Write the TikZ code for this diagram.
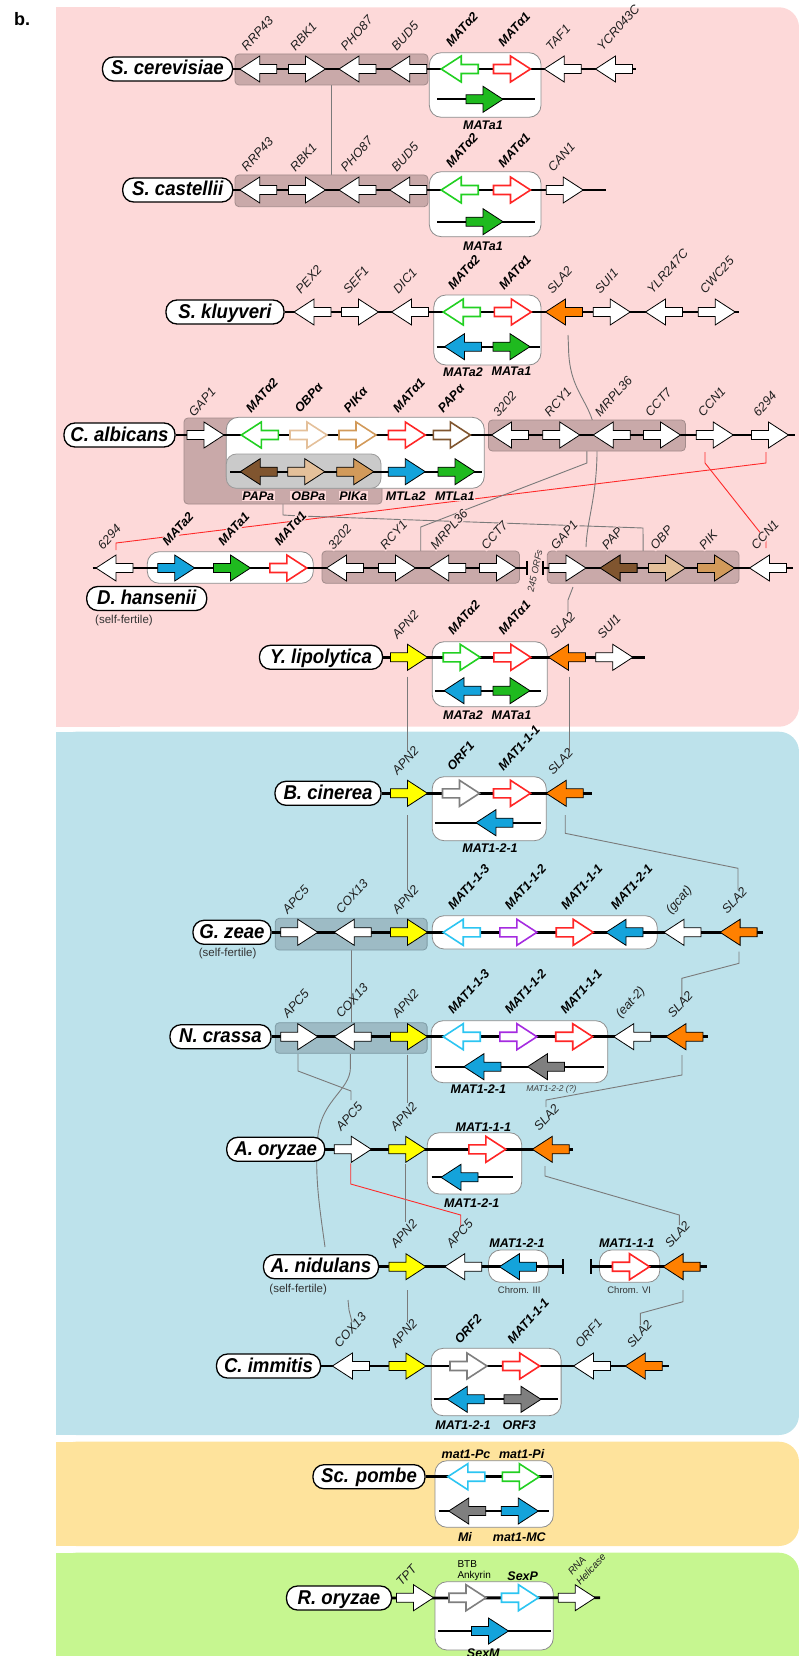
\documentclass[tikz,border=0pt]{standalone}
\usepackage{fontspec}
\setmainfont{Liberation Sans}
\newfontfamily\pillfont{Liberation Sans}[FakeStretch=0.93]
\usetikzlibrary{calc}
\pgfdeclarelayer{panel}
\pgfdeclarelayer{conn}
\pgfsetlayers{panel,conn,main}
\definecolor{pinkbg}{HTML}{FDD9D9}
\definecolor{bluebg}{HTML}{BDE2EB}
\definecolor{yellowbg}{HTML}{FEE39C}
\definecolor{greenbg}{HTML}{C6F690}
\definecolor{brbox}{HTML}{C9A9A9}
\definecolor{brboxl}{HTML}{A38B8B}
\definecolor{blbox}{HTML}{9DBBC5}
\definecolor{blboxl}{HTML}{7E9BA5}
\definecolor{grbox}{HTML}{CACACA}
\definecolor{grboxl}{HTML}{9A9A9A}
\definecolor{matl}{HTML}{8C8C8C}
\definecolor{cgo}{HTML}{22D022}
\definecolor{cgf}{HTML}{1FBA1F}
\definecolor{cred}{HTML}{FF2626}
\definecolor{cblue}{HTML}{14A3DB}
\definecolor{corange}{HTML}{FF8000}
\definecolor{cyel}{HTML}{FFFF00}
\definecolor{ccyan}{HTML}{2CC5F2}
\definecolor{cpur}{HTML}{A52BE0}
\definecolor{cgray}{HTML}{7F7F7F}
\definecolor{ctanl}{HTML}{E4C09A}
\definecolor{ctan}{HTML}{D29A5A}
\definecolor{cbrown}{HTML}{80552F}
\definecolor{connc}{HTML}{7A7A7A}
\definecolor{rconn}{HTML}{FF2A2A}
\tikzset{
  gbox/.style={minimum width=37pt, minimum height=26pt, inner sep=0pt, outer sep=0pt},
  wg/.style={fill=white, draw=black, line width=0.8pt},
  og/.style={fill=white, draw=#1, line width=1.6pt},
  fg/.style={fill=#1, draw=black, line width=0.8pt},
  lx/.style={},
  glab/.style={rotate=48, anchor=base west, inner sep=0.8pt, text=black!88, font=\fontsize{12.5}{12.5}\selectfont\itshape, lx},
  gblab/.style={glab, text=black, font=\fontsize{12.5}{12.5}\selectfont\bfseries\itshape},
  blab/.style={inner sep=0.8pt, font=\fontsize{12.5}{12.5}\selectfont\bfseries\itshape, lx},
  smalltxt/.style={inner sep=0pt, text=black!80, font=\fontsize{11.5}{11.5}\selectfont},
  tinytxt/.style={inner sep=0pt, text=black!80, font=\fontsize{9.5}{9.5}\selectfont},
  chrom/.style={line width=2.8pt, black},
  subl/.style={line width=2pt, black},
  tickl/.style={line width=2pt, black},
  brbx/.style={fill=brbox, draw=brboxl, line width=0.8pt, rounded corners=4pt, inner sep=0pt, outer sep=0pt},
  blbx/.style={fill=blbox, draw=blboxl, line width=0.8pt, rounded corners=4pt, inner sep=0pt, outer sep=0pt},
  grbx/.style={fill=grbox, draw=grboxl, line width=0.8pt, rounded corners=10pt, inner sep=0pt, outer sep=0pt},
  matbx/.style={fill=white, draw=matl, line width=0.8pt, rounded corners=12pt, inner sep=0pt, outer sep=0pt},
  pill/.style={draw=black, line width=1.3pt, fill=white, rounded corners=11pt, minimum height=24pt, inner xsep=3pt, inner ysep=0pt, text height=15pt, text depth=3pt, font=\pillfont\bfseries\itshape\fontsize{20}{20}\selectfont},
  cn/.style={draw=connc, line width=0.9pt},
  rcn/.style={draw=rconn, line width=0.9pt},
}
\newcommand\garrow[5]{%
  \node[gbox] (#1) at (#2,#3) {};
  \draw[#5] ($(#1)+({#4*(-18.5)},-4.5)$) -- ++({#4*17},0) -- ++(0,-8.5) -- ++({#4*20},13) -- ++({#4*(-20)},13) -- ++(0,-8.5) -- ++({#4*(-17)},0) -- cycle;}
\newcommand\gA[6]{\garrow{#1}{#2}{#3}{#4}{#5}\node[glab] (#1l) at ($(#1)+(-12,-17)$) {#6};}
\newcommand\gB[6]{\garrow{#1}{#2}{#3}{#4}{#5}\node[gblab] (#1l) at ($(#1)+(-12,-17)$) {#6};}
\newcommand\gM[6]{\garrow{#1}{#2}{#3}{#4}{#5}\node[gblab] (#1l) at ($(#1)+(-9,-21)$) {#6};}
\newcommand\gZ[5]{\garrow{#1}{#2}{#3}{#4}{#5}}
\newcommand\boxn[6]{\node[#2, minimum width={#5-#3}, minimum height={#6-#4}] (#1) at ({(#3+#5)/2},{(#4+#6)/2}) {};}
\begin{document}
\begin{tikzpicture}[x=1pt,y=-1pt]
\useasboundingbox (0,0) rectangle (799,1656);
\begin{pgfonlayer}{panel}
\fill[pinkbg,rounded corners=20pt] (56,7.3) rectangle (799,726.7);
\fill[pinkbg] (56,7.3) rectangle (120,726.7);
\fill[bluebg,rounded corners=20pt] (56,731.7) rectangle (799,1435);
\fill[bluebg] (56,731.7) rectangle (120,1435);
\fill[yellowbg,rounded corners=20pt] (56,1441.7) rectangle (799,1546);
\fill[yellowbg] (56,1441.7) rectangle (120,1546);
\fill[greenbg,rounded corners=20pt] (56,1552.7) rectangle (799,1700);
\fill[greenbg] (56,1552.7) rectangle (120,1656);
\end{pgfonlayer}
\node[font=\fontsize{18}{18}\selectfont\bfseries] (blab0) at (22,19) {b.};

% ---------- S. cerevisiae
\node[pill, minimum width=130] (cepill) at (167.5,69) {S. cerevisiae};
\boxn{cebox}{brbx}{235}{54}{428}{85}
\boxn{cemat}{matbx}{429.3}{52.7}{541}{117.3}
\draw[chrom] (cepill.east) -- (636,69);
\draw[subl] (437,99.3) -- (534.5,99.3);
\gA{ce1}{258.3}{69}{-1}{wg}{RRP43}
\gA{ce2}{307}{69}{1}{wg}{RBK1}
\gA{ce3}{357.5}{69}{-1}{wg}{PHO87}
\gA{ce4}{408.3}{69}{-1}{wg}{BUD5}
\gM{ce5}{459.7}{69}{-1}{og=cgo}{MATα2}
\gM{ce6}{512}{69}{1}{og=cred}{MATα1}
\gZ{ce7}{484.5}{99.3}{1}{fg=cgf}
\node[blab] (ce7l) at (483,125) {MATa1};
\gA{ce8}{562.7}{69}{-1}{wg}{TAF1}
\gA{ce9}{614}{69}{-1}{wg}{YCR043C}

% ---------- S. castellii
\node[pill, minimum width=110] (capill) at (177.7,190) {S. castellii};
\boxn{cabox}{brbx}{235}{175}{428}{206.7}
\boxn{camat}{matbx}{429.3}{171.7}{541}{236.7}
\draw[chrom] (capill.east) -- (606,190);
\draw[subl] (437,221.7) -- (534.5,221.7);
\gA{ca1}{258.3}{190}{-1}{wg}{RRP43}
\gA{ca2}{307}{190}{1}{wg}{RBK1}
\gA{ca3}{357.5}{190}{-1}{wg}{PHO87}
\gA{ca4}{408.3}{190}{-1}{wg}{BUD5}
\gM{ca5}{459.7}{190}{-1}{og=cgo}{MATα2}
\gM{ca6}{512}{190}{1}{og=cred}{MATα1}
\gZ{ca7}{484.5}{221.7}{1}{fg=cgf}
\node[blab] (ca7l) at (483,246) {MATa1};
\gA{ca8}{564.7}{190}{1}{wg}{CAN1}

% ---------- S. kluyveri
\node[pill, minimum width=118] (klpill) at (225,312) {S. kluyveri};
\boxn{klmat}{matbx}{433.8}{295}{541}{365}
\draw[chrom] (klpill.east) -- (739,312);
\draw[subl] (437,346.7) -- (539.6,346.7);
\gA{kl1}{312.5}{312}{-1}{wg}{PEX2}
\gA{kl2}{360}{312}{1}{wg}{SEF1}
\gA{kl3}{410}{312}{-1}{wg}{DIC1}
\gM{kl4}{461.7}{312}{-1}{og=cgo}{MATα2}
\gM{kl5}{512.8}{312}{1}{og=cred}{MATα1}
\gZ{kl6}{463}{346.7}{-1}{fg=cblue}
\gZ{kl7}{511.5}{346.7}{1}{fg=cgf}
\node[blab] (kl6l) at (463,371.7) {MATa2};
\node[blab] (kl7l) at (511.5,371.7) {MATa1};
\gA{kl8}{564}{312}{-1}{fg=corange}{SLA2}
\gA{kl9}{611.7}{312}{1}{wg}{SUI1}
\gA{kl10}{664}{312}{-1}{wg}{YLR247C}
\gA{kl11}{716.7}{312}{1}{wg}{CWC25}

% ---------- C. albicans
\node[pill, minimum width=111] (alpill) at (119.5,435) {C. albicans};
\boxn{albbox}{brbx}{184}{418}{382}{504}
\boxn{almat}{matbx}{226.3}{417.3}{484.3}{488.3}
\boxn{algray}{grbx}{226.3}{454}{381}{488.3}
\boxn{albox2}{brbx}{488.4}{420}{685.4}{451}
\draw[chrom] (alpill.east) -- (794.7,435);
\draw[subl] (230,471.7) -- (481.5,471.7);
\gA{al1}{205.5}{435}{1}{wg}{GAP1}
\gM{al2}{259.8}{435}{-1}{og=cgo}{MATα2}
\gM{al3}{308.5}{435}{1}{og=ctanl}{OBPα}
\gM{al4}{357.5}{435}{1}{og=ctan}{PIKα}
\gM{al5}{406.8}{435}{1}{og=cred}{MATα1}
\gM{al6}{451.8}{435}{1}{og=cbrown}{PAPα}
\gZ{al7}{258.7}{471.7}{-1}{fg=cbrown}
\gZ{al8}{306.3}{471.7}{1}{fg=ctanl}
\gZ{al9}{355.3}{471.7}{1}{fg=ctan}
\gZ{al10}{406.8}{471.7}{1}{fg=cblue}
\gZ{al11}{456.5}{471.7}{1}{fg=cgf}
\begin{scope}[lx/.style={fill=pinkbg}]
\node[blab] (al7l) at (258.3,496) {PAPa};
\node[blab] (al8l) at (308.3,496) {OBPa};
\node[blab] (al9l) at (353.3,496) {PIKa};
\node[blab] (al10l) at (405.7,496) {MTLa2};
\node[blab] (al11l) at (454.8,496) {MTLa1};
\end{scope}
\gA{al12}{510}{435}{-1}{wg}{3202}
\gA{al13}{561.3}{435}{1}{wg}{RCY1}
\gA{al14}{611.7}{435}{-1}{wg}{MRPL36}
\gA{al15}{662}{435}{1}{wg}{CCT7}
\gA{al16}{714.8}{435}{1}{wg}{CCN1}
\gA{al17}{770}{435}{1}{wg}{6294}

% ---------- D. hansenii
\boxn{hamat}{matbx}{147.3}{551.7}{313.3}{583.3}
\boxn{habox1}{brbx}{322}{551}{519.5}{583.3}
\boxn{habox2}{brbx}{547.3}{551}{739}{583.3}
\coordinate (hal) at (92.7,568);
\coordinate (hat1) at (527,568);
\coordinate (hat2) at (542.5,568);
\coordinate (har) at (792.8,568);
\draw[chrom] (hal) -- (hat1);
\draw[chrom] (hat2) -- (har);
\draw[tickl] ($(hat1)+(0,-7)$) -- ($(hat1)+(0,7)$);
\draw[tickl] ($(hat2)+(0,-7)$) -- ($(hat2)+(0,7)$);
\node[rotate=78, inner sep=0pt, text=black!80, font=\fontsize{9.5}{9.5}\selectfont\itshape] (orfs) at (535,571) {245 ORFs};
\begin{scope}[lx/.style={fill=pinkbg}]
\gA{ha1}{114.5}{568}{-1}{wg}{6294}
\gM{ha2}{176.2}{568}{1}{fg=cblue}{MATa2}
\gM{ha3}{232}{568}{1}{fg=cgf}{MATa1}
\gM{ha4}{288.3}{568}{1}{og=cred}{MATα1}
\gA{ha5}{345}{568}{-1}{wg}{3202}
\gA{ha6}{397}{568}{1}{wg}{RCY1}
\gA{ha7}{447.3}{568}{-1}{wg}{MRPL36}
\gA{ha8}{497.9}{568}{1}{wg}{CCT7}
\gA{ha9}{567.5}{568}{1}{wg}{GAP1}
\gA{ha10}{618.6}{568}{-1}{fg=cbrown}{PAP}
\gA{ha11}{667}{568}{1}{fg=ctanl}{OBP}
\gA{ha12}{716}{568}{1}{fg=ctan}{PIK}
\gA{ha13}{768}{568}{-1}{wg}{CCN1}
\end{scope}
\node[pill, minimum width=120] (hapill) at (146.7,598.5) {D. hansenii};
\node[smalltxt] (hasf) at (124,620.7) {(self-fertile)};

% ---------- Y. lipolytica
\node[pill, minimum width=123] (lipill) at (321,657.3) {Y. lipolytica};
\boxn{limat}{matbx}{432.2}{641.7}{547.3}{706.7}
\draw[chrom] (lipill.east) -- (644.5,657.3);
\draw[subl] (434.8,690.7) -- (541,690.7);
\gA{li1}{409}{657.3}{1}{fg=cyel}{APN2}
\gM{li2}{461.7}{657.3}{1}{og=cgo}{MATα2}
\gM{li3}{512.3}{657.3}{1}{og=cred}{MATα1}
\gZ{li4}{462.5}{690.7}{-1}{fg=cblue}
\gZ{li5}{511.5}{690.7}{1}{fg=cgf}
\node[blab] (li4l) at (463,715) {MATa2};
\node[blab] (li5l) at (511.5,715) {MATa1};
\gA{li6}{567}{657.3}{-1}{fg=corange}{SLA2}
\gA{li7}{614.3}{657.3}{1}{wg}{SUI1}

% ---------- B. cinerea
\node[pill, minimum width=106] (cipill) at (328,793.3) {B. cinerea};
\boxn{cimat}{matbx}{432.2}{776.7}{546.3}{840.7}
\draw[chrom] (cipill.east) -- (592.3,793.3);
\draw[subl] (434.8,822.7) -- (541,822.7);
\gA{ci1}{409}{793.3}{1}{fg=cyel}{APN2}
\gM{ci2}{461}{793.3}{1}{og=cgray}{ORF1}
\gM{ci3}{512}{793.3}{1}{og=cred}{MAT1-1-1}
\gZ{ci4}{494.4}{822.7}{-1}{fg=cblue}
\node[blab] (ci4l) at (490,848.3) {MAT1-2-1};
\gA{ci5}{564.7}{793.3}{-1}{fg=corange}{SLA2}

% ---------- G. zeae
\node[pill, minimum width=78] (zepill) at (232,932.3) {G. zeae};
\node[smalltxt] (zesf) at (227.6,954) {(self-fertile)};
\boxn{zebox}{blbx}{275.2}{918.3}{427.1}{950}
\boxn{zemat}{matbx}{432.2}{915.7}{657.3}{949}
\draw[chrom] (zepill.east) -- (763,932.3);
\gA{ze1}{299.3}{932.3}{1}{wg}{APC5}
\gA{ze2}{352.7}{932.3}{-1}{wg}{COX13}
\gA{ze3}{409}{932.3}{1}{fg=cyel}{APN2}
\gM{ze4}{461.7}{932.3}{-1}{og=ccyan}{MAT1-1-3}
\gM{ze5}{518.4}{932.3}{1}{og=cpur}{MAT1-1-2}
\gM{ze6}{574.7}{932.3}{1}{og=cred}{MAT1-1-1}
\gM{ze7}{624.5}{932.3}{-1}{fg=cblue}{MAT1-2-1}
\gA{ze8}{682.4}{932.3}{-1}{wg}{(gcat)}
\gA{ze9}{738.6}{932.3}{-1}{fg=corange}{SLA2}

% ---------- N. crassa
\node[pill, minimum width=101] (crpill) at (220.5,1036.7) {N. crassa};
\boxn{crbox}{blbx}{275.2}{1022.7}{427.1}{1053.3}
\boxn{crmat}{matbx}{431.2}{1020.7}{607.7}{1082.7}
\draw[chrom] (crpill.east) -- (708.4,1036.7);
\draw[subl] (434.8,1066.7) -- (603.6,1066.7);
\gA{cr1}{299.3}{1036.7}{1}{wg}{APC5}
\gA{cr2}{352.7}{1036.7}{-1}{wg}{COX13}
\gA{cr3}{409}{1036.7}{1}{fg=cyel}{APN2}
\gM{cr4}{461.7}{1036.7}{-1}{og=ccyan}{MAT1-1-3}
\gM{cr5}{518.4}{1036.7}{1}{og=cpur}{MAT1-1-2}
\gM{cr6}{574.2}{1036.7}{1}{og=cred}{MAT1-1-1}
\gZ{cr7}{482.4}{1066.7}{-1}{fg=cblue}
\gZ{cr8}{546}{1066.7}{-1}{fg=cgray}
\node[blab] (cr7l) at (478.3,1089.3) {MAT1-2-1};
\node[inner sep=0pt, text=black!75, font=\fontsize{8.5}{8.5}\selectfont\itshape] (cr8l) at (551.4,1089.3) {MAT1-2-2 (?)};
\gA{cr9}{632.2}{1036.7}{-1}{wg}{(eat-2)}
\gA{cr10}{684.4}{1036.7}{-1}{fg=corange}{SLA2}

% ---------- A. oryzae
\node[pill, minimum width=98] (orpill) at (275.7,1149.3) {A. oryzae};
\boxn{ormat}{matbx}{427.3}{1132.7}{521.7}{1194}
\draw[chrom] (orpill.east) -- (572.7,1149.3);
\draw[subl] (431.7,1177.3) -- (512.7,1177.3);
\gA{or1}{352.8}{1149.3}{1}{wg}{APC5}
\gA{or2}{407.2}{1149.3}{1}{fg=cyel}{APN2}
\gZ{or3}{487.3}{1149.3}{1}{og=cred}
\node[blab] (or3l) at (483.3,1126.7) {MAT1-1-1};
\gZ{or4}{459.5}{1177.3}{-1}{fg=cblue}
\node[blab] (or4l) at (471.7,1202.7) {MAT1-2-1};
\gA{or5}{550.8}{1149.3}{-1}{fg=corange}{SLA2}

% ---------- A. nidulans
\node[pill, minimum width=115] (nipill) at (321,1266.7) {A. nidulans};
\node[smalltxt] (nisf) at (298.2,1290) {(self-fertile)};
\boxn{nimat1}{matbx}{488.5}{1250}{548.3}{1282.3}
\boxn{nimat2}{matbx}{599.5}{1250}{659.8}{1282.3}
\coordinate (nit1) at (562.7,1266.7);
\coordinate (nit2) at (590.8,1266.7);
\draw[chrom] (nipill.east) -- (nit1);
\draw[chrom] (nit2) -- (707.4,1266.7);
\draw[tickl] ($(nit1)+(0,-7.5)$) -- ($(nit1)+(0,7.5)$);
\draw[tickl] ($(nit2)+(0,-7.5)$) -- ($(nit2)+(0,7.5)$);
\gA{ni1}{407.4}{1266.7}{1}{fg=cyel}{APN2}
\gA{ni2}{463.2}{1266.7}{-1}{wg}{APC5}
\gZ{ni3}{517.9}{1266.7}{-1}{fg=cblue}
\node[blab] (ni3l) at (517,1243.3) {MAT1-2-1};
\gZ{ni4}{631}{1266.7}{1}{og=cred}
\node[blab] (ni4l) at (626.7,1243.3) {MAT1-1-1};
\gA{ni5}{681.6}{1266.7}{-1}{fg=corange}{SLA2}
\node[tinytxt] (nic3) at (519.2,1290) {Chrom. III};
\node[tinytxt] (nic6) at (629.2,1290) {Chrom. VI};

% ---------- C. immitis
\node[pill, minimum width=104] (impill) at (268.5,1366) {C. immitis};
\boxn{immat}{matbx}{431.2}{1348.3}{561.1}{1415.7}
\draw[chrom] (impill.east) -- (669,1366);
\draw[subl] (433.8,1399.3) -- (557.5,1399.3);
\gA{im1}{350.9}{1366}{-1}{wg}{COX13}
\gA{im2}{407.4}{1366}{1}{fg=cyel}{APN2}
\gM{im3}{468.5}{1366}{1}{og=cgray}{ORF2}
\gM{im4}{521.2}{1366}{1}{og=cred}{MAT1-1-1}
\gZ{im5}{465.8}{1399.3}{-1}{fg=cblue}
\gZ{im6}{522.5}{1399.3}{1}{fg=cgray}
\node[blab] (im5l) at (463,1425) {MAT1-2-1};
\node[blab] (im6l) at (519.2,1425) {ORF3};
\gA{im7}{592}{1366}{-1}{wg}{ORF1}
\gA{im8}{643.7}{1366}{-1}{fg=corange}{SLA2}

% ---------- Sc. pombe
\node[pill, minimum width=112] (popill) at (369,1476.7) {Sc. pombe};
\boxn{pomat}{matbx}{435}{1460.7}{553.3}{1527.3}
\draw[chrom] (popill.east) -- (551.7,1476.7);
\draw[subl] (439.3,1511) -- (549,1511);
\gZ{po1}{466.3}{1476.7}{-1}{og=ccyan}
\gZ{po2}{520.8}{1476.7}{1}{og=cgo}
\node[blab] (po1l) at (466,1454) {mat1-Pc};
\node[blab] (po2l) at (521.7,1454) {mat1-Pi};
\gZ{po3}{467.2}{1511}{-1}{fg=cgray}
\gZ{po4}{519.8}{1511}{1}{fg=cblue}
\node[blab] (po3l) at (465,1536.7) {Mi};
\node[blab] (po4l) at (519.3,1536.7) {mat1-MC};

% ---------- R. oryzae
\node[pill, minimum width=105] (ropill) at (339,1598) {R. oryzae};
\boxn{romat}{matbx}{435}{1581.7}{553.3}{1650}
\draw[chrom] (ropill.east) -- (600,1597.7);
\draw[subl] (438.3,1631) -- (550.7,1631);
\gZ{ro1}{415}{1597.7}{1}{wg}
\node[glab] (ro1l) at ($(ro1)+(-14,-10)$) {TPT};
\gZ{ro2}{467.5}{1597.7}{1}{og=cgray}
\node[anchor=west, inner sep=0pt, font=\fontsize{10}{10}\selectfont] (ro2a) at (457.3,1564) {BTB};
\node[anchor=west, inner sep=0pt, font=\fontsize{10}{10}\selectfont] (ro2b) at (457.3,1576) {Ankyrin};
\gZ{ro3}{520}{1597.7}{1}{og=ccyan}
\node[blab] (ro3l) at (522.7,1575.7) {SexP};
\gZ{ro4}{576.7}{1597.7}{1}{wg}
\node[glab, font=\fontsize{10}{10}\selectfont\itshape] (ro4a) at (571.7,1576.7) {RNA};
\node[glab, font=\fontsize{10}{10}\selectfont\itshape] (ro4b) at (580,1586.7) {Helicase};
\gZ{ro5}{490}{1631}{1}{fg=cblue}
\node[blab] (ro5l) at (483.3,1652.7) {SexM};

% ---------- connectors
\begin{pgfonlayer}{conn}
\draw[cn] (cebox.south) -- (cabox.north);
\draw[cn] ($(kl8)+(4,23)$) -- (568.5,347) .. controls (569,400) and (598,400) .. (597,455) .. controls (596,500) and (587,520) .. ($(ha9)+(18.5,-21)$);
\draw[cn] ($(ha9)+(5.5,19)$) -- (568,600) -- ($(li6)+(1,-44)$);
\draw[rcn] ($(al17)+(-4,17)$) -- (766,463) -- (116,543) -- ($(ha1)+(1.5,-18)$);
\draw[rcn] ($(al16)+(-9.8,17)$) -- (705,463) -- (766,540) -- ($(ha13)+(-2,-20)$);
\draw[cn] (albbox.south) -- ++(0,11) -- (300,516) -- (643,528) -- (habox2.north);
\draw[cn] (albox2.south) -- ++(0,12) -- (420.7,527) -- (habox1.north);
\draw[cn] ($(li1)+(-1.3,19.4)$) -- ($(ci1)+(-1.3,-41)$);
\draw[cn] ($(li6)+(2.3,19.4)$) -- ($(ci5)+(4.6,-41)$);
\draw[cn] ($(ci1)+(-1.3,21.7)$) -- ($(ze3)+(-1.3,-42.3)$);
\draw[cn] ($(ci5)+(0.5,21.7)$) -- (565.2,833.3) -- (738,868.3) -- ($(ze9)+(-0.6,-42.3)$);
\draw[cn] (zebox.south) -- (crbox.north);
\draw[cn] ($(ze9)+(0.4,19.4)$) -- (739,963.3) -- (681.8,978.3) -- ($(cr10)+(-2.6,-36.7)$);
\draw[cn] ($(cr1)+(-1.3,17.3)$) -- (298,1071) -- (351,1091) -- ($(or1)+(-1.8,-49.3)$);
\draw[cn] ($(cr2)+(-2.3,17.3)$) -- (350.4,1068) .. controls (350,1090) and (322,1100) .. (318,1135) .. controls (314,1175) and (320,1210) .. (325,1247);
\draw[cn] (348,1300) -- (349,1310) -- ($(im1)+(1.1,-44)$);
\draw[cn] ($(cr3)+(-2,18.3)$) -- ($(or2)+(-0.2,-46.3)$);
\draw[cn] ($(cr10)+(-2.4,18.3)$) -- (682,1075) -- (546,1100) -- ($(or5)+(-4.8,-42.3)$);
\draw[rcn] ($(or1)+(-2.1,14)$) -- (350.7,1184) -- (460.7,1215) -- ($(ni2)+(-2.5,-41)$);
\draw[cn] ($(or2)+(-1.5,14.7)$) -- ($(ni1)+(-1.7,-45)$);
\draw[cn] ($(or5)+(-5.8,16.7)$) -- (545,1176) -- (679.3,1215) -- ($(ni5)+(-2.3,-41.7)$);
\draw[cn] ($(ni1)+(0.3,23.3)$) -- ($(im2)+(0.3,-44.3)$);
\draw[cn] ($(ni5)+(1.4,23.3)$) -- (683,1301.7) -- (640.4,1313.3) -- ($(im8)+(-3.3,-41)$);
\end{pgfonlayer}
\end{tikzpicture}
\end{document}
